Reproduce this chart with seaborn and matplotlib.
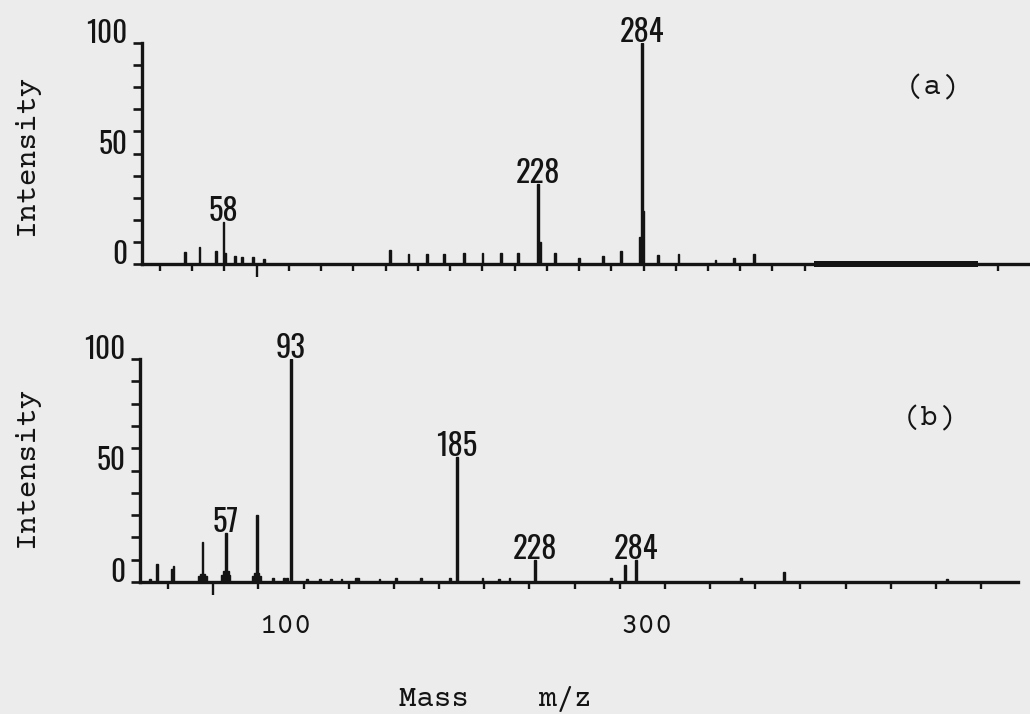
import matplotlib
matplotlib.use("Agg")
import matplotlib.pyplot as plt
import matplotlib.transforms as mtransforms
from matplotlib import font_manager as fm
import numpy as np
import pandas as pd
import seaborn as sns

# ---- spectrum (a) ----
mz_a = [37, 45, 54, 58, 59, 64, 68, 74, 80,
        148, 158, 168, 177, 188, 198, 208, 217, 228, 229, 237,
        250, 263, 273, 283, 284, 285, 293, 304, 324, 334, 345]
int_a = [5.5, 7.7, 6.0, 19.0, 5.0, 3.6, 3.0, 3.3, 2.2,
         6.4, 4.5, 4.5, 4.5, 5.0, 5.0, 5.0, 5.0, 36.0, 10.0, 5.0,
         2.5, 3.5, 6.0, 12.0, 100.0, 24.0, 4.0, 4.5, 2.0, 2.5, 4.5]
labels_a = [58, 228, 284]
noise_a = (377, 466)          # m/z span with a raised, noisy baseline

# ---- spectrum (b) ----
mz_b = [15, 19, 27, 28, 42, 43, 44, 45, 46, 55, 56, 57, 58, 59, 72, 73, 74, 75, 76,
        83, 89, 91, 93,
        102, 109, 115, 121, 129, 130, 142, 151, 165, 181, 185, 199, 208, 214,
        228, 270, 278, 284, 342, 366, 456]
int_b = [1.5, 8.0, 6.0, 7.0, 2.5, 3.5, 18.0, 3.5, 2.5, 3.0, 5.0, 22.0, 5.0, 3.0, 2.5, 4.0, 30.0, 4.0, 2.5,
         2.0, 2.0, 2.0, 100.0,
         1.5, 1.5, 1.5, 1.5, 2.0, 2.0, 1.5, 2.0, 2.0, 2.0, 56.0, 2.0, 1.5, 2.0,
         10.0, 2.0, 7.5, 10.0, 2.0, 4.5, 1.5]
labels_b = [57, 93, 185, 228, 284]

# ---- axis text ----
y_tick_values = list(range(0, 101, 10))
y_tick_text = {0: "0", 50: "50", 100: "100"}
x_tick_text_b = {100: "100", 300: "300"}
x_title = "Mass    m/z"
y_title = "Intensity"
panel_tags = ["(a)", "(b)"]

sns.set_theme(style="ticks")

INK = "#141414"
PAPER = "#ececec"


def first_installed(candidates, default):
    names = {f.name for f in fm.fontManager.ttflist}
    for c in candidates:
        if c in names:
            return c
    return default


PLOT_FONT = first_installed(["Oswald", "IBM Plex Sans Condensed"], "DejaVu Sans")
TYPE_FONT = first_installed(["Courier Prime", "Liberation Mono", "Cousine"], "DejaVu Sans Mono")
plt.rcParams["font.family"] = [TYPE_FONT, "DejaVu Sans"]

W, H = 1030, 714
fig = plt.figure(figsize=(W / 100, H / 100), dpi=100, facecolor=PAPER)


def axes_at(left, top, right, bottom):
    return fig.add_axes([left / W, 1 - bottom / H, (right - left) / W, (bottom - top) / H])


def draw_spectrum(ax, mz, inten, labeled, xlim, minor_ticks, major_ticks):
    df = pd.DataFrame({"mz": mz, "intensity": inten})
    sns.histplot(data=df, x="mz", weights="intensity", discrete=True, shrink=1.0,
                 color=INK, edgecolor=INK, linewidth=1.0, alpha=1.0, ax=ax)
    ax.set_xlim(*xlim)
    ax.set_ylim(0, 100)
    ax.set_facecolor("none")
    ax.set_xlabel("")
    ax.set_ylabel("")
    sns.despine(ax=ax)
    for side in ("left", "bottom"):
        ax.spines[side].set_linewidth(2.4)
        ax.spines[side].set_color(INK)
    ax.spines["left"].set_bounds(0, 100)

    # intensity scale: tick every 10 %, numbers sit just above their tick
    ax.set_yticks(y_tick_values, [y_tick_text.get(v, "") for v in y_tick_values])
    ax.tick_params(axis="y", direction="out", length=6.5, width=1.9, color=INK,
                   pad=4.0, labelsize=21, labelcolor=INK)
    for lbl in ax.get_yticklabels():
        lbl.set_fontfamily(PLOT_FONT)
        lbl.set_fontweight("bold")
        lbl.set_verticalalignment("baseline")

    # mass scale: short ticks plus one long marker tick
    ax.set_xticks(major_ticks, [""] * len(major_ticks))
    ax.set_xticks(minor_ticks, minor=True)
    ax.tick_params(axis="x", which="major", direction="out", length=9, width=1.7, color=INK)
    ax.tick_params(axis="x", which="minor", direction="out", length=5, width=1.7, color=INK)

    # peak annotations
    lift = mtransforms.offset_copy(ax.transData, fig=fig, x=0, y=1, units="dots")
    for m in labeled:
        h = inten[mz.index(m)]
        ax.text(m, h, str(m), ha="center", va="baseline", fontfamily=PLOT_FONT,
                fontweight="bold", fontsize=22, color=INK, clip_on=False, transform=lift)


# panel (a)
ax_a = axes_at(142, 43, 1030, 264)
xlim_a = (13.9, 494.0)
ticks_a = np.arange(23.6, 480, 17.43)
ticks_a = ticks_a[(ticks_a < noise_a[0]) | (ticks_a > noise_a[1])]
draw_spectrum(ax_a, mz_a, int_a, labels_a, xlim_a,
              minor_ticks=np.delete(ticks_a, 3), major_ticks=[ticks_a[3]])
ax_a.fill_between(noise_a, -1.4, 1.4, color=INK, lw=0, clip_on=False, zorder=3)

# panel (b)
ax_b = axes_at(140, 359, 1018, 582)
xlim_b = (9.4, 495.5)
ticks_b = np.arange(25, 480, 25)
draw_spectrum(ax_b, mz_b, int_b, labels_b, xlim_b,
              minor_ticks=ticks_b[ticks_b != 50], major_ticks=[50])

# mass numbers under panel (b)
num_tr = mtransforms.offset_copy(
    mtransforms.blended_transform_factory(ax_b.transData, ax_b.transAxes),
    fig=fig, x=-18, y=-51, units="dots")
for v, s in x_tick_text_b.items():
    ax_b.text(v, 0, s, ha="center", va="baseline", fontsize=21, color=INK,
              transform=num_tr, clip_on=False)

# titles and panel tags
fig.text(495 / W, 1 - 706 / H, x_title, ha="center", va="baseline", fontsize=21, color=INK)
for yc in (156, 468):
    fig.text(26 / W, 1 - yc / H, y_title, rotation=90, ha="center", va="center",
             fontsize=21.5, color=INK)
for tag, (xc, yc) in zip(panel_tags, [(933, 87), (930, 418)]):
    fig.text(xc / W, 1 - yc / H, tag, ha="center", va="center", fontsize=21, color=INK)

fig.savefig("out.png", dpi=100, facecolor=PAPER)
